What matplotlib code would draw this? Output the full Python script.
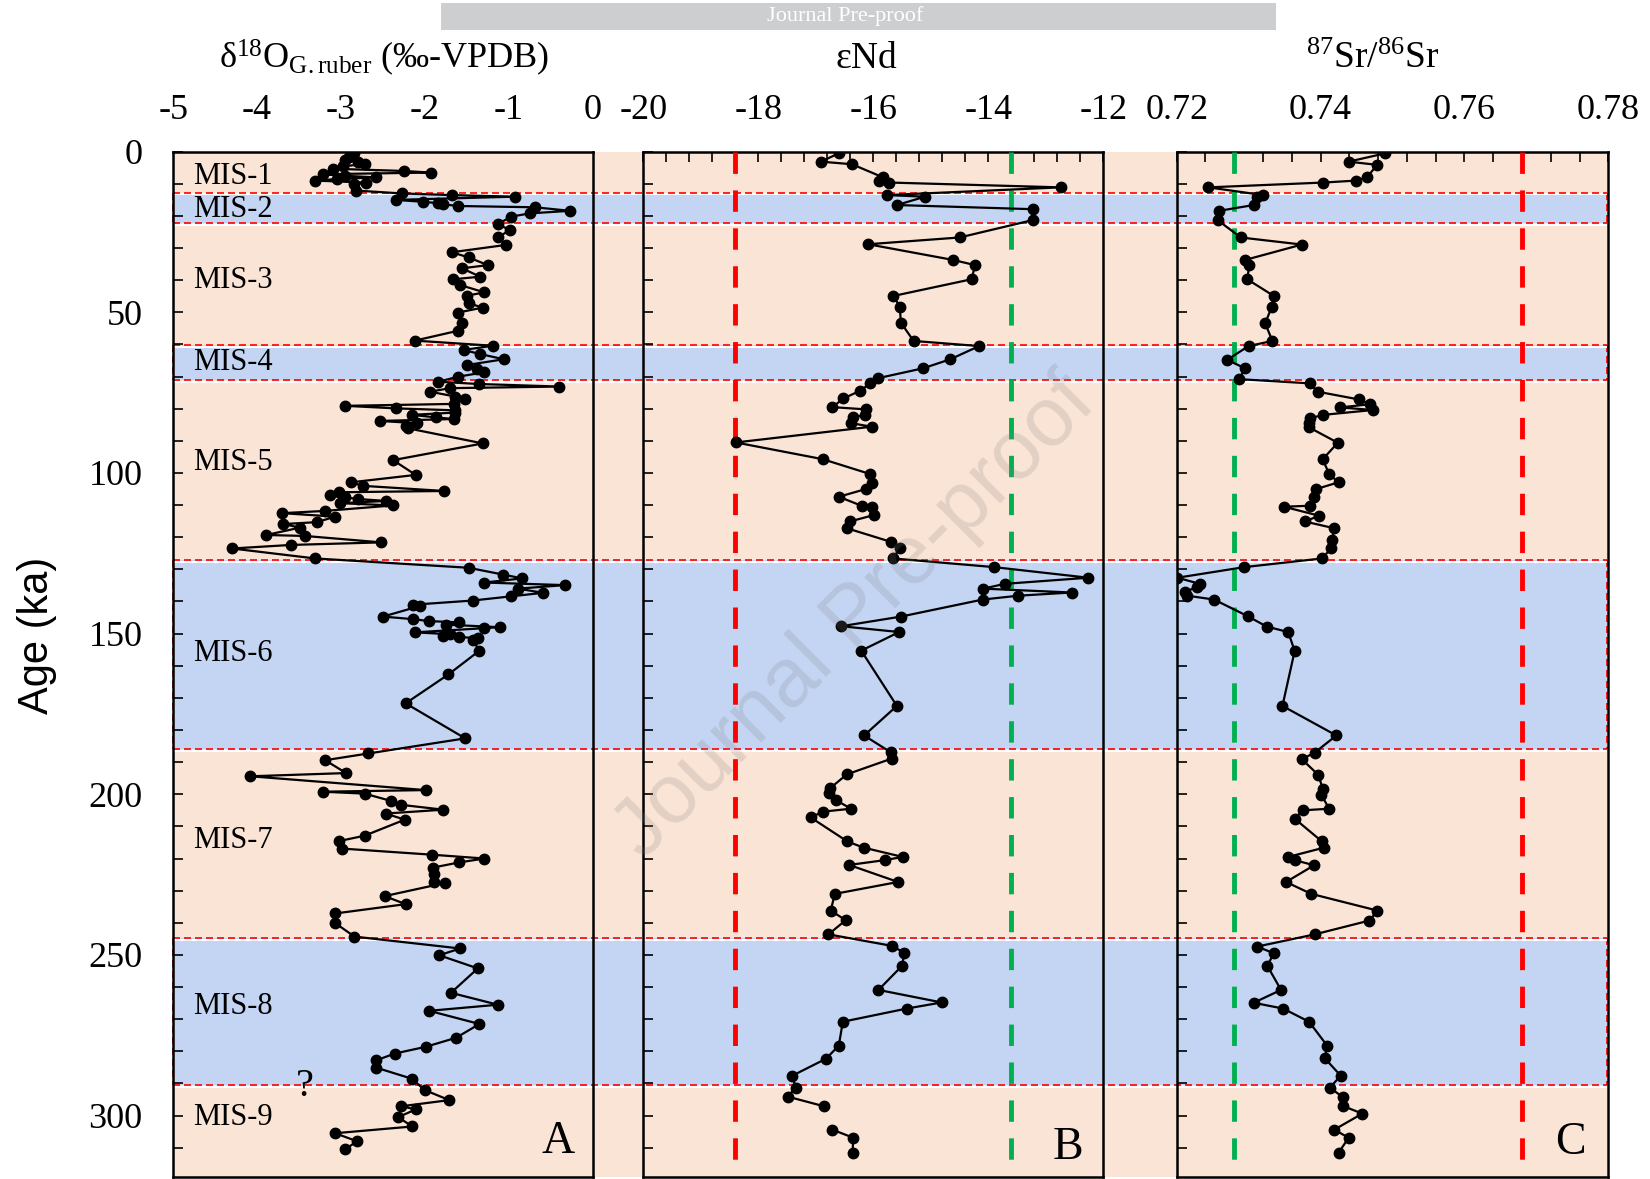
import numpy as np
import matplotlib
matplotlib.use("Agg")
import matplotlib.pyplot as plt
from matplotlib.patches import Rectangle
from matplotlib.ticker import MultipleLocator, FormatStrFormatter

plt.rcParams['font.family'] = ['Liberation Serif', 'DejaVu Serif']
plt.rcParams['mathtext.fontset'] = 'custom'
plt.rcParams['mathtext.rm'] = 'Liberation Serif'
plt.rcParams['mathtext.it'] = 'Liberation Serif:italic'
plt.rcParams['axes.unicode_minus'] = False

# marine isotope stages (ka)
mis_names = ["MIS-1", "MIS-2", "MIS-3", "MIS-4", "MIS-5", "MIS-6", "MIS-7", "MIS-8", "MIS-9"]
mis_top = [0, 12.7, 22.1, 60.2, 71.1, 127.1, 185.8, 244.8, 290.5]
mis_bottom = [12.7, 22.1, 60.2, 71.1, 127.1, 185.8, 244.8, 290.5, 319]
mis_glacial = [False, True, False, True, False, True, False, True, False]
mis_label_age = [7.6, 18.1, 40.1, 65.5, 96.8, 156.3, 214.5, 266, 300.6]

# panel A: d18O G. ruber
d18o_age = [0.5, 1.8, 2.6, 3.2, 3.8, 4.6, 5.3, 6.0, 6.5, 7.0, 7.5, 8.0, 8.5, 9.0, 9.6, 10.2, 12.1,
            13.0, 13.5, 14.0, 15.0, 15.6, 16.0, 16.4, 16.9, 17.3, 18.4, 19.2, 20.2,
            22.5, 24.4, 26.7, 29.0, 31.3, 32.9, 35.3, 36.3, 38.9, 39.7, 41.5, 43.8, 44.8, 47.2,
            48.5, 50.1, 53.2, 55.7, 58.8, 60.4, 61.7, 63.0, 64.6, 66.4, 67.7, 68.7, 70.0, 71.6,
            72.3, 73.1, 73.6, 74.7, 76.2, 77.1, 78.5, 79.1, 79.9, 80.5, 81.2, 81.9, 82.7, 83.2,
            83.8, 84.5, 85.5, 86.1, 90.8, 96.0, 100.6, 102.9, 104.0, 105.6, 106.0, 107.0, 107.6,
            108.1, 108.7, 109.4, 110.1, 111.8, 112.5, 113.6, 115.3, 115.9, 117.0, 119.3, 119.6,
            121.6, 122.4, 123.5, 126.6, 129.5, 131.6, 132.8, 134.1, 134.9, 136.0, 137.3, 138.4,
            139.7, 141.0, 141.4, 144.7, 145.5, 146.1, 146.5, 147.2, 148.0, 148.3, 149.6, 150.2,
            150.8, 151.0, 151.5, 152.0, 155.3, 162.7, 171.7, 182.6, 187.3, 189.4, 193.4, 194.4,
            198.7, 199.2, 199.8, 202.1, 203.3, 204.8, 206.0, 207.9, 212.9, 214.6, 216.9, 218.8,
            220.0, 221.2, 222.8, 224.9, 227.2, 227.6, 231.7, 234.2, 237.1, 240.1, 244.3, 248.0,
            250.1, 254.2, 261.8, 265.5, 267.4, 271.5, 275.8, 278.6, 280.7, 282.8, 285.1, 288.5,
            292.1, 295.2, 297.1, 298.1, 300.5, 303.4, 305.5, 308.0, 310.5]
d18o_val = [-2.84, -2.90, -2.95, -2.80, -2.72, -2.98, -3.10, -2.25, -1.93, -3.21, -2.95, -2.58, -3.05, -3.31, -2.70, -2.85, -2.82,
            -2.27, -1.68, -0.93, -2.35, -2.02, -1.85, -1.78, -1.60, -0.69, -0.27, -0.75, -0.97,
            -1.13, -0.99, -1.13, -1.03, -1.68, -1.48, -1.25, -1.56, -1.34, -1.66, -1.58, -1.29, -1.50, -1.48,
            -1.31, -1.61, -1.56, -1.60, -2.12, -1.19, -1.54, -1.34, -1.06, -1.50, -1.38, -1.30, -1.60, -1.84,
            -1.36, -0.40, -1.70, -1.94, -1.64, -1.52, -1.65, -2.95, -2.34, -1.64, -1.64, -2.16, -1.87, -1.65,
            -2.54, -2.10, -2.22, -2.20, -1.31, -2.38, -2.11, -2.88, -2.74, -1.77, -3.03, -3.13, -2.95,
            -2.80, -2.46, -3.01, -2.38, -3.19, -3.70, -3.07, -3.29, -3.69, -3.49, -3.89, -3.43,
            -2.52, -3.60, -4.30, -3.31, -1.48, -1.07, -0.84, -1.29, -0.33, -0.89, -0.59, -0.97,
            -1.43, -2.14, -2.06, -2.50, -2.14, -1.95, -1.59, -1.75, -1.11, -1.29, -2.12, -1.70,
            -1.78, -1.59, -1.37, -1.43, -1.35, -1.72, -2.23, -1.52, -2.68, -3.19, -2.94, -4.08,
            -1.99, -3.22, -2.72, -2.40, -2.28, -1.78, -2.47, -2.24, -2.72, -3.03, -2.99, -1.92,
            -1.29, -1.59, -1.90, -1.89, -1.89, -1.76, -2.48, -2.23, -3.07, -3.07, -2.84, -1.58,
            -1.83, -1.37, -1.69, -1.13, -1.95, -1.35, -1.63, -1.99, -2.36, -2.58, -2.58, -2.16,
            -2.00, -1.71, -2.28, -2.11, -2.32, -2.15, -3.07, -2.81, -2.95]

# panel B: eNd (nan = gap in record)
end_age = [0.5, 3.1, 3.9, 8.0, 9.0, 9.6, 11.1, 13.5, 14.0, 16.6, 17.9, 21.3, 26.7, 28.8, 33.7, 35.3,
           39.7, 44.9, 48.2, 53.2, 58.9, 60.5, 64.6, 67.4, 70.5, 72.1, 74.5, 76.8, 79.5, 80.2, 81.9,
           82.7, 84.5, 85.6, 90.5, 95.7, 100.3, 103.0, 105.0, 107.4, 110.3, 110.6, 113.1, 115.1,
           117.2, 121.4, 123.4, 126.6, 129.3, 132.6, 134.5, 136.0, 137.2, 138.2, 139.4, 144.7,
           147.7, 149.5, 155.3, 172.5, 181.7, 186.9, 188.9, 193.8, 198.1, 199.6, 201.8, 204.5,
           205.4, 207.2, 214.7, 216.6, 219.5, 220.5, 222.0, 227.3, 231.0, 236.2, 239.2, 243.6,
           247.2, 249.4, 253.4, 260.9, 264.8, 266.7, 270.8, 278.2, 282.3, 287.6, 291.3, 294.1,
           297.1, 300.0, 304.4, 306.9, 311.6]
end_val = [-16.60, -16.91, -16.37, -15.83, -15.90, -15.72, -12.74, -15.76, -15.10, -15.59, -13.22, -13.23,
           -14.50, -16.09, -14.61, -14.23, -14.29, -15.65, -15.54, -15.52, -15.30, -14.16, -14.66, -15.13,
           -15.92, -16.05, -16.24, -16.52, -16.71, -16.13, -16.14, -16.35, -16.38, -16.03, -18.39, -16.88,
           -16.06, -16.03, -16.13, -16.60, -16.19, -16.03, -15.99, -16.41, -16.46, -15.70, -15.54, -15.66,
           -13.90, -12.26, -13.71, -14.09, -12.55, -13.48, -14.10, -15.52, -16.56, -15.55, -16.21, -15.59,
           -16.16, -15.70, -15.68, -16.46, -16.75, -16.77, -16.65, -16.39, -16.87, -17.09, -16.45, -16.17,
           -15.49, -15.80, -16.42, -15.57, -16.67, -16.74, -16.48, -16.78, -15.67, -15.46, -15.50, -15.91,
           -14.81, -15.42, -16.53, -16.60, -16.82, -17.41, -17.35, -17.49, -16.86, np.nan, -16.71, -16.35,
           -16.36]

# panel C: 87Sr/86Sr
sr_age = [0.5, 3.1, 4.1, 8.0, 9.0, 9.6, 11.1, 13.5, 14.2, 16.6, 18.4, 21.3, 26.7, 28.9, 33.7, 35.3,
          39.7, 44.9, 48.4, 53.4, 58.9, 60.5, 64.8, 67.4, 70.8, 72.1, 74.7, 77.1, 78.6, 79.6, 80.4,
          81.9, 83.0, 84.5, 85.8, 90.6, 95.7, 100.4, 102.9, 105.0, 107.4, 110.2, 110.5, 113.3, 115.1,
          117.2, 121.0, 123.4, 126.6, 129.3, 132.6, 134.5, 135.5, 137.0, 138.2, 139.4, 144.6, 147.8,
          149.5, 155.4, 172.5, 181.7, 187.0, 189.1, 194.0, 198.3, 200.2, 204.5, 205.0, 207.6, 214.7,
          216.6, 219.5, 220.5, 222.1, 227.3, 231.0, 236.2, 239.3, 243.6, 247.4, 249.5, 253.4, 260.9,
          264.9, 266.7, 270.8, 278.2, 282.2, 287.6, 291.3, 294.3, 297.0, 299.4, 304.4, 306.9, 311.6]
sr_val = [0.7490, 0.7439, 0.7479, 0.7464, 0.7449, 0.7404, 0.7244, 0.7320, 0.7311, 0.7307, 0.7259, 0.7257,
          0.7289, 0.7374, 0.7295, 0.7301, 0.7298, 0.7335, 0.7332, 0.7323, 0.7333, 0.7300, 0.7270, 0.7295,
          0.7287, 0.7385, 0.7396, 0.7453, 0.7469, 0.7427, 0.7473, 0.7404, 0.7385, 0.7384, 0.7384, 0.7424,
          0.7403, 0.7412, 0.7425, 0.7394, 0.7391, 0.7385, 0.7349, 0.7398, 0.7378, 0.7419, 0.7416, 0.7415,
          0.7402, 0.7294, 0.7201, 0.7232, 0.7228, 0.7212, 0.7215, 0.7252, 0.7299, 0.7325, 0.7355, 0.7364,
          0.7347, 0.7422, 0.7392, 0.7374, 0.7397, 0.7403, 0.7401, 0.7412, 0.7375, 0.7364, 0.7402, 0.7405,
          0.7355, 0.7364, 0.7391, 0.7352, 0.7387, 0.7479, 0.7468, 0.7392, 0.7312, 0.7335, 0.7326, 0.7345,
          0.7307, 0.7348, 0.7384, 0.7409, 0.7406, 0.7428, 0.7413, 0.7431, 0.7431, 0.7458, 0.7419, 0.7439,
          0.7425]

# end-member reference values
end_refs = [-18.4, -13.6]
sr_refs = [0.728, 0.768]

W, H = 1650, 1179
PEACH = '#FAE4D6'
BLUE = '#C3D5F3'
RED = '#FF0000'
GREEN = '#00B050'


def box(left, top, right, bottom):
    return [left / W, 1 - bottom / H, (right - left) / W, (bottom - top) / H]


fig = plt.figure(figsize=(W / 100, H / 100), dpi=100)

# shaded stage bands behind all three panels
bg = fig.add_axes(box(173.3, 151.7, 1607, 1176.6))
bg.set_xlim(0, 1)
bg.set_ylim(319, 0)
bg.axis('off')
for top, bot, glac in zip(mis_top, mis_bottom, mis_glacial):
    bg.add_patch(Rectangle((0, top), 1, bot - top, facecolor=BLUE if glac else PEACH,
                           edgecolor='none', zorder=1))
    if glac:
        for xe in (0, 1):
            bg.plot([xe, xe], [top, bot], color=RED, lw=1.2, dashes=(4.2, 2.4),
                    zorder=2, clip_on=False)
for b in mis_top[1:]:
    bg.axhline(b + 0.6, color='white', lw=1.5, zorder=2)
    bg.axhline(b, color=RED, lw=1.2, dashes=(4.2, 2.4), zorder=3)

axA = fig.add_axes(box(173.3, 151.7, 592.7, 1176.6))
axB = fig.add_axes(box(643.3, 151.7, 1103.3, 1176.6))
axC = fig.add_axes(box(1176.7, 151.7, 1608.3, 1176.6))

for ax in (axA, axB, axC):
    ax.patch.set_visible(False)
    ax.set_ylim(319, 0)
    for s in ax.spines.values():
        s.set_linewidth(1.8)
    ax.xaxis.set_ticks_position('top')
    ax.yaxis.set_major_locator(MultipleLocator(50))
    ax.yaxis.set_minor_locator(MultipleLocator(10))
    ax.tick_params(axis='both', which='both', direction='in', length=7, width=1.2,
                   labelsize=26, right=False, bottom=False)
    ax.tick_params(axis='x', pad=18)
    ax.tick_params(axis='y', pad=22)

axA.set_xlim(-5, 0)
axA.xaxis.set_major_locator(MultipleLocator(1))
axA.tick_params(axis='x', which='both', top=False, labeltop=True)
axA.plot(d18o_val, d18o_age, '-o', color='k', lw=1.6, ms=7.5, zorder=5)

axB.set_xlim(-20, -12)
axB.xaxis.set_major_locator(MultipleLocator(2))
axB.xaxis.set_minor_locator(MultipleLocator(0.4))
axB.tick_params(axis='y', labelleft=False)
for x, c in zip(end_refs, [RED, GREEN]):
    axB.plot([x, x], [0, 316], color=c, lw=3.5, dashes=(4.4, 3.4), zorder=3)
axB.plot(end_val, end_age, '-o', color='k', lw=1.6, ms=7.5, zorder=5)

axC.set_xlim(0.72, 0.78)
axC.xaxis.set_major_locator(MultipleLocator(0.02))
axC.xaxis.set_minor_locator(MultipleLocator(0.004))
axC.xaxis.set_major_formatter(FormatStrFormatter('%.2f'))
axC.tick_params(axis='y', labelleft=False)
for x, c in zip(sr_refs, [GREEN, RED]):
    axC.plot([x, x], [0, 316], color=c, lw=3.5, dashes=(4.4, 3.4), zorder=3)
axC.plot(sr_val, sr_age, '-o', color='k', lw=1.6, ms=7.5, zorder=5)

# stage labels
for name, age in zip(mis_names, mis_label_age):
    axA.text(-4.76, age, name, fontsize=22, ha='left', va='center', zorder=6)
axA.text(-3.43, 291, '?', fontsize=29, ha='center', va='center')

axA.text(-0.41, 311.5, 'A', fontsize=33, ha='center', va='baseline')
axB.text(-12.61, 313.5, 'B', fontsize=33, ha='center', va='baseline')
axC.text(0.7747, 312, 'C', fontsize=33, ha='center', va='baseline')

# column titles
ty = 1 - 68 / H
fig.text(384 / W, ty, r'δ$^{18}$O$_{\mathrm{G.ruber}}$ (‰-VPDB)', fontsize=26, ha='center', va='baseline')
fig.text(866 / W, ty, 'εNd', fontsize=27, ha='center', va='baseline')
fig.text(1373 / W, ty, r'$^{87}$Sr/$^{86}$Sr', fontsize=27, ha='center', va='baseline')

fig.text(37 / W, 1 - 635 / H, 'Age (ka)', fontsize=30, rotation=90, ha='center', va='center',
         family='Liberation Sans')

# journal banner and watermark
fig.add_artist(Rectangle((441 / W, 1 - 29.5 / H), (1276 - 441) / W, 26.5 / H,
                         transform=fig.transFigure, facecolor='#CDCED0', edgecolor='none'))
fig.text(845 / W, 1 - 16 / H, 'Journal Pre-proof', fontsize=16, color='white',
         ha='center', va='center')
fig.text(855 / W, 1 - 618 / H, 'Journal Pre-proof', fontsize=60, rotation=45, color='gray',
         alpha=0.2, ha='center', va='center', family='Liberation Sans', zorder=10)

fig.savefig('out.png', dpi=100)
